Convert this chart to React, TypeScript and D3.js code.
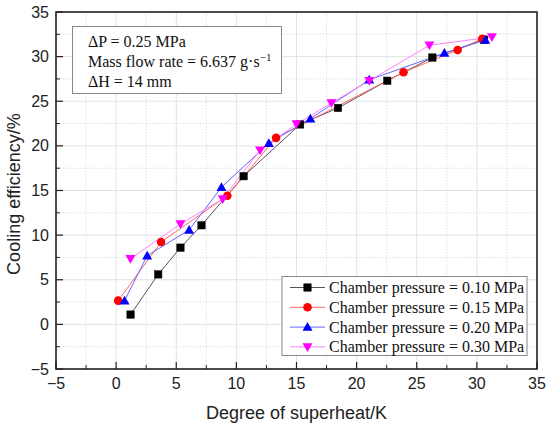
import React from "react";
import * as d3 from "d3";

// Degree of superheat (K) / cooling efficiency (%) for each chamber pressure
const p010X = [1.2, 3.5, 5.35, 7.1, 10.6, 15.3, 18.45, 22.55, 26.3, 30.6];
const p010Y = [1.1, 5.6, 8.6, 11.1, 16.6, 22.4, 24.25, 27.3, 29.9, 31.9];
const p015X = [0.17, 3.74, 9.25, 13.3, 23.9, 28.4, 30.45];
const p015Y = [2.66, 9.23, 14.42, 20.9, 28.25, 30.75, 32.0];
const p020X = [0.7, 2.58, 6.07, 8.76, 12.7, 16.15, 21.05, 27.3, 30.7];
const p020Y = [2.66, 7.7, 10.58, 15.36, 20.3, 23.05, 27.4, 30.4, 31.85];
const p030X = [1.19, 5.35, 8.87, 11.97, 15.0, 17.9, 21.05, 26.05, 31.25];
const p030Y = [7.36, 11.25, 14.05, 19.5, 22.45, 24.8, 27.3, 31.27, 32.2];

const seriesNames = [
  "Chamber pressure = 0.10 MPa",
  "Chamber pressure = 0.15 MPa",
  "Chamber pressure = 0.20 MPa",
  "Chamber pressure = 0.30 MPa",
];
const xTicks = [-5, 0, 5, 10, 15, 20, 25, 30, 35];
const yTicks = [-5, 0, 5, 10, 15, 20, 25, 30, 35];

const markerColors = ["#000000", "#ff0000", "#0000ff", "#ff00ff"];
const lineColors = ["#555555", "#ff6666", "#6666ff", "#ff80ff"];
const shapes = ["square", "circle", "up", "down"];

const W = 550;
const H = 427;
const m = { left: 56, right: 537, top: 12, bottom: 369 };

const x = d3.scaleLinear().domain([-5, 35]).range([m.left, m.right]);
const y = d3.scaleLinear().domain([-5, 35]).range([m.bottom, m.top]);

const fmt = (v: number) => (v < 0 ? "\u2212" + Math.abs(v) : String(v));

function Marker({ shape, cx, cy, color }: { shape: string; cx: number; cy: number; color: string }) {
  if (shape === "square") {
    return <rect x={cx - 3.7} y={cy - 3.7} width={7.4} height={7.4} fill={color} stroke="#000" strokeWidth={0.5} />;
  }
  if (shape === "circle") {
    return <circle cx={cx} cy={cy} r={4.3} fill={color} />;
  }
  const s = 5;
  const pts =
    shape === "up"
      ? [[cx, cy - s], [cx + s, cy + s * 0.75], [cx - s, cy + s * 0.75]]
      : [[cx, cy + s], [cx + s, cy - s * 0.75], [cx - s, cy - s * 0.75]];
  return <polygon points={pts.map((p) => p.join(",")).join(" ")} fill={color} />;
}

export default function App() {
  const series = [
    { xs: p010X, ys: p010Y },
    { xs: p015X, ys: p015Y },
    { xs: p020X, ys: p020Y },
    { xs: p030X, ys: p030Y },
  ];
  const line = d3
    .line<number[]>()
    .x((d) => x(d[0]))
    .y((d) => y(d[1]));

  const minorX = d3.range(-2.5, 35, 5);
  const minorY = d3.range(-2.5, 35, 5);

  return (
    <svg width={W} height={H} style={{ position: "absolute", left: 0, top: 0 }}>
      <rect width={W} height={H} fill="#fff" />
      {/* grid */}
      {minorX.map((v) => (
        <line key={"mx" + v} x1={x(v)} x2={x(v)} y1={m.top} y2={m.bottom} stroke="#d8d8d8" strokeWidth={0.8} strokeDasharray="1.5,1.5" />
      ))}
      {minorY.map((v) => (
        <line key={"my" + v} x1={m.left} x2={m.right} y1={y(v)} y2={y(v)} stroke="#d8d8d8" strokeWidth={0.8} strokeDasharray="1.5,1.5" />
      ))}
      {xTicks.map((v) => (
        <line key={"gx" + v} x1={x(v)} x2={x(v)} y1={m.top} y2={m.bottom} stroke="#e2e2e2" strokeWidth={1} />
      ))}
      {yTicks.map((v) => (
        <line key={"gy" + v} x1={m.left} x2={m.right} y1={y(v)} y2={y(v)} stroke="#e2e2e2" strokeWidth={1} />
      ))}

      {/* series */}
      {series.map((s, i) => (
        <path key={"l" + i} d={line(s.xs.map((v, j) => [v, s.ys[j]])) || ""} fill="none" stroke={lineColors[i]} strokeWidth={1} />
      ))}
      {series.map((s, i) => (
        <g key={"m" + i}>
          {s.xs.map((v, j) => (
            <Marker key={j} shape={shapes[i]} cx={x(v)} cy={y(s.ys[j])} color={markerColors[i]} />
          ))}
        </g>
      ))}

      {/* frame and ticks */}
      <rect x={m.left} y={m.top} width={m.right - m.left} height={m.bottom - m.top} fill="none" stroke="#222" strokeWidth={1.6} />
      {xTicks.map((v) => (
        <line key={"tx" + v} x1={x(v)} x2={x(v)} y1={m.bottom} y2={m.bottom - 7} stroke="#222" strokeWidth={1.2} />
      ))}
      {minorX.map((v) => (
        <line key={"tmx" + v} x1={x(v)} x2={x(v)} y1={m.bottom} y2={m.bottom - 4} stroke="#222" strokeWidth={1} />
      ))}
      {yTicks.map((v) => (
        <line key={"ty" + v} x1={m.left} x2={m.left + 7} y1={y(v)} y2={y(v)} stroke="#222" strokeWidth={1.2} />
      ))}
      {minorY.map((v) => (
        <line key={"tmy" + v} x1={m.left} x2={m.left + 4} y1={y(v)} y2={y(v)} stroke="#222" strokeWidth={1} />
      ))}

      {/* tick labels */}
      <g fontFamily="'Liberation Sans', Arial, sans-serif" fontSize={16} fill="#222">
        {xTicks.map((v) => (
          <text key={"lx" + v} x={x(v)} y={m.bottom + 20} textAnchor="middle">
            {fmt(v)}
          </text>
        ))}
        {yTicks.map((v) => (
          <text key={"ly" + v} x={m.left - 7} y={y(v) + 5.5} textAnchor="end">
            {fmt(v)}
          </text>
        ))}
      </g>
      <text x={(m.left + m.right) / 2} y={419} textAnchor="middle" fontFamily="'Liberation Sans', Arial, sans-serif" fontSize={18} fill="#222">
        Degree of superheat/K
      </text>
      <text
        transform="translate(20,194) rotate(-90)"
        textAnchor="middle"
        fontFamily="'Liberation Sans', Arial, sans-serif"
        fontSize={18}
        fill="#222"
      >
        Cooling efficiency/%
      </text>

      {/* annotation box */}
      <g fontFamily="'Liberation Serif', 'Times New Roman', serif" fontSize={16} fill="#111">
        <rect x={72.5} y={26.5} width={209} height={67} fill="#fff" stroke="#888" strokeWidth={1} />
        <text x={88} y={47}>ΔP = 0.25 MPa</text>
        <text x={88} y={67}>
          Mass flow rate = 6.637 g·s
          <tspan fontSize={11} dy={-6}>−1</tspan>
        </text>
        <text x={88} y={87}>ΔH = 14 mm</text>
      </g>

      {/* legend */}
      <g fontFamily="'Liberation Serif', 'Times New Roman', serif" fontSize={16} fill="#111">
        <rect x={282} y={276.5} width={245} height={79} fill="#fff" stroke="#888" strokeWidth={1} />
        {seriesNames.map((name, i) => {
          const ly = 287.5 + i * 19.8;
          return (
            <g key={name}>
              <line x1={290} x2={325} y1={ly} y2={ly} stroke={lineColors[i]} strokeWidth={1} />
              <Marker shape={shapes[i]} cx={307.5} cy={ly} color={markerColors[i]} />
              <text x={329} y={ly + 5.5}>{name}</text>
            </g>
          );
        })}
      </g>
    </svg>
  );
}
